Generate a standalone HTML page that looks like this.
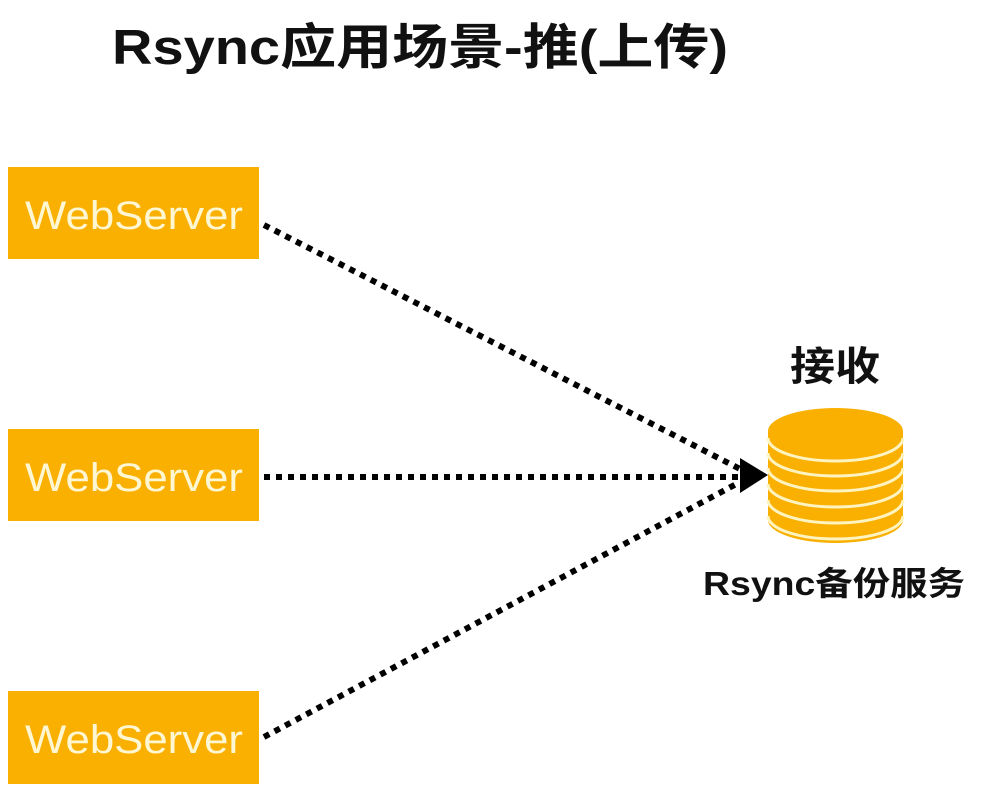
<!DOCTYPE html>
<html><head><meta charset="utf-8"><style>
html,body{margin:0;padding:0;background:#fff;width:1002px;height:801px;overflow:hidden}
</style></head><body>
<svg width="1002" height="801" xmlns="http://www.w3.org/2000/svg">
<text x="112" y="64" font-family="Liberation Sans, Noto Sans CJK SC, sans-serif" font-weight="bold" font-size="49" fill="#111" textLength="616" lengthAdjust="spacingAndGlyphs">Rsync应用场景-推(上传)</text>
<g fill="#F9B000">
<rect x="8" y="167" width="251" height="92"/>
<rect x="8" y="429" width="251" height="92"/>
<rect x="8" y="691" width="251" height="93"/>
</g>
<g font-family="Liberation Sans, sans-serif" font-size="40" fill="#FFF6D2">
<text x="25" y="229" textLength="218" lengthAdjust="spacingAndGlyphs">WebServer</text>
<text x="25" y="491" textLength="218" lengthAdjust="spacingAndGlyphs">WebServer</text>
<text x="25" y="753" textLength="218" lengthAdjust="spacingAndGlyphs">WebServer</text>
</g>
<g stroke="#000" stroke-width="6" stroke-dasharray="6,6" fill="none">
<line x1="264" y1="225" x2="740" y2="469"/>
<line x1="264" y1="477" x2="740" y2="477"/>
<line x1="264" y1="737" x2="740" y2="482"/>
</g>
<polygon points="740,458 768,475 740,493" fill="#000"/>
<g>
<path d="M768,431 V520 A67.5,23 0 0 0 903,520 V431 Z" fill="#F9B000"/>
<g fill="none" stroke="#FFF3C0" stroke-width="3">
<path d="M768,438 A67.5,23 0 0 0 903,438"/>
<path d="M768,453 A67.5,23 0 0 0 903,453"/>
<path d="M768,468 A67.5,23 0 0 0 903,468"/>
<path d="M768,484 A67.5,23 0 0 0 903,484"/>
<path d="M768,500 A67.5,23 0 0 0 903,500"/>
<path d="M768,516 A67.5,23 0 0 0 903,516"/>
</g>
<ellipse cx="835.5" cy="431" rx="67.5" ry="23" fill="#F9B000"/>
</g>
<text x="790" y="380" font-family="Liberation Sans, Noto Sans CJK SC, sans-serif" font-weight="bold" font-size="40" fill="#111" textLength="90" lengthAdjust="spacingAndGlyphs">接收</text>
<text x="703" y="595" font-family="Liberation Sans, Noto Sans CJK SC, sans-serif" font-weight="bold" font-size="33" fill="#111" textLength="262" lengthAdjust="spacingAndGlyphs">Rsync备份服务</text>
</svg>
</body></html>
